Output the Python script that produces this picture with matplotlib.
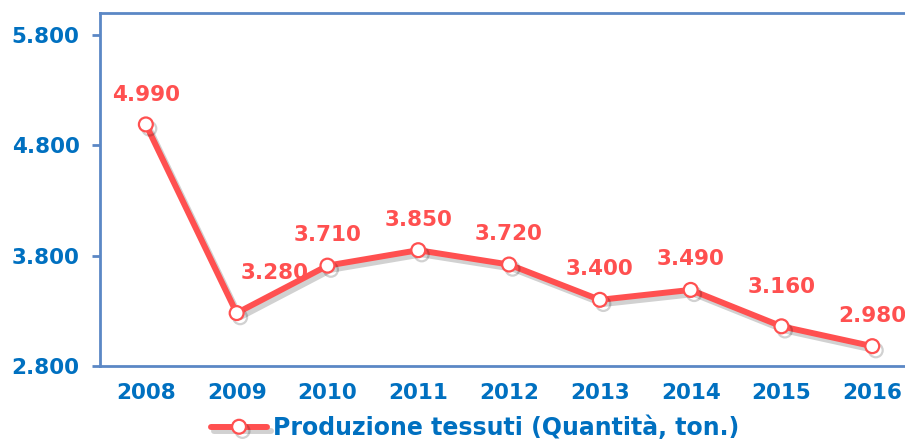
import matplotlib
matplotlib.use("Agg")
import matplotlib.pyplot as plt
import matplotlib.patheffects as pe
from matplotlib.ticker import FixedLocator, FuncFormatter

years = ["2008", "2009", "2010", "2011", "2012", "2013", "2014", "2015", "2016"]
values = [4990, 3280, 3710, 3850, 3720, 3400, 3490, 3160, 2980]
yticks = [2800, 3800, 4800, 5800]
series_name = "Produzione tessuti (Quantità, ton.)"

BLUE = "#0070c0"
AXC = "#5b87c5"
RED = "#ff5050"

def fmt(v):
    return f"{int(v):,}".replace(",", ".")

fig = plt.figure(figsize=(9.05, 4.41), dpi=100)
ax = fig.add_axes([0.111, 0.170, 0.903, 0.8005])
x = list(range(len(years)))
shadow = [pe.SimpleLineShadow(offset=(2.5, -3), alpha=0.18, shadow_color="black"), pe.Normal()]
ln, = ax.plot(x, values, color=RED, lw=4.3, marker="o", markersize=10,
              markerfacecolor="white", markeredgecolor=RED, markeredgewidth=1.6,
              path_effects=shadow, solid_capstyle="round", label=series_name, zorder=3)

# label offsets in points (dx, dy)
offsets = [(0, 21), (27, 29), (0, 22), (0, 22), (0, 22), (0, 22), (0, 22), (0, 28), (0, 22)]
for xi, v, (dx, dy) in zip(x, values, offsets):
    ax.annotate(fmt(v), (xi, v), xytext=(dx, dy), textcoords="offset points",
                ha="center", va="center", color=RED, fontsize=15.5, fontweight="bold",
                annotation_clip=False)

ax.set_xlim(-0.5, len(years) - 0.5)
ax.set_ylim(2800, 6000)
ax.yaxis.set_major_locator(FixedLocator(yticks))
ax.yaxis.set_major_formatter(FuncFormatter(lambda v, p: fmt(v)))
ax.set_xticks(x)
ax.set_xticklabels(years)
for s in ax.spines.values():
    s.set_color(AXC)
    s.set_linewidth(2)
ax.spines["right"].set_visible(False)
ax.tick_params(axis="y", colors=AXC, length=6, width=2, labelcolor=BLUE, labelsize=15.5, pad=9)
ax.tick_params(axis="x", length=0, labelcolor=BLUE, labelsize=15.5, pad=12)
for lab in ax.get_xticklabels() + ax.get_yticklabels():
    lab.set_fontweight("bold")

leg = fig.legend(handles=[ln], loc="center", bbox_to_anchor=(0.525, 0.03), frameon=False,
                 fontsize=17, handlelength=2.4, handletextpad=0.25, borderaxespad=0)
for t in leg.get_texts():
    t.set_color(BLUE)
    t.set_fontweight("bold")

fig.savefig("out.png", dpi=100)
